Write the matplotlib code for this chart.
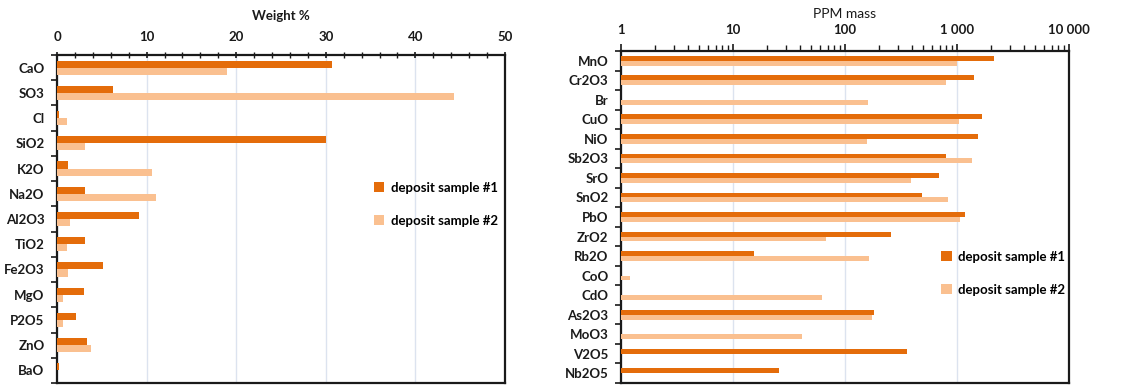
import numpy as np
import matplotlib
matplotlib.use("Agg")
import matplotlib.pyplot as plt
from matplotlib.ticker import FixedLocator, FuncFormatter, LogLocator, NullFormatter
from matplotlib.patches import Patch

plt.rcParams['font.family'] = ['Lato', 'DejaVu Sans']
plt.rcParams['font.weight'] = 'bold'

# ---- data ----
major_cats = ["CaO", "SO3", "Cl", "SiO2", "K2O", "Na2O", "Al2O3", "TiO2",
              "Fe2O3", "MgO", "P2O5", "ZnO", "BaO"]
major_s1 = [30.7, 6.3, 0.2, 30.0, 1.2, 3.1, 9.2, 3.1, 5.15, 3.05, 2.15, 3.4, 0.25]
major_s2 = [19.0, 44.3, 1.1, 3.15, 10.6, 11.0, 1.4, 1.1, 1.2, 0.67, 0.67, 3.8, 0.05]

minor_cats = ["MnO", "Cr2O3", "Br", "CuO", "NiO", "Sb2O3", "SrO", "SnO2", "PbO",
              "ZrO2", "Rb2O", "CoO", "CdO", "As2O3", "MoO3", "V2O5", "Nb2O5"]
minor_s1 = [2140, 1430, np.nan, 1660, 1540, 800, 690, 490, 1186,
            258, 15.4, np.nan, np.nan, 183, np.nan, 356, 25.8]
minor_s2 = [1000, 800, 160, 1040, 157, 1350, 390, 836, 1057,
            67, 163, 1.21, 62.5, 175, 41.4, np.nan, np.nan]

series_names = ["deposit sample #1", "deposit sample #2"]
c1 = "#E46C0A"
c2 = "#FAC090"
grid_c = "#DCE3EF"
txt_c = "#1a1a1a"

W, H = 1130, 388
fig = plt.figure(figsize=(W / 100, H / 100), dpi=100)

def frac(x0, y0, x1, y1):
    return [x0 / W, 1 - y1 / H, (x1 - x0) / W, (y1 - y0) / H]

axL = fig.add_axes(frac(57, 55, 505, 383))
axR = fig.add_axes(frac(621, 51, 1069, 383))

def style(ax, cats, s1, s2, bh):
    n = len(cats)
    y = np.arange(n)
    ax.barh(y - bh / 2, s1, height=bh, color=c1, zorder=3)
    ax.barh(y + bh / 2, s2, height=bh, color=c2, zorder=3)
    ax.set_ylim(n - 0.5, -0.5)
    ax.set_yticks(y)
    ax.set_yticklabels(cats, fontsize=9.5, fontweight='bold', color=txt_c)
    ax.yaxis.set_minor_locator(FixedLocator(np.arange(n + 1) - 0.5))
    ax.tick_params(axis='y', which='major', length=0, pad=9)
    ax.tick_params(axis='y', which='minor', length=4, width=1.2, direction='out', color=txt_c)
    ax.xaxis.tick_top()
    ax.xaxis.set_label_position('top')
    ax.tick_params(axis='x', which='major', labelsize=9.5, length=5, width=1.2,
                   direction='inout', pad=6, labelcolor=txt_c, color=txt_c)
    ax.tick_params(axis='x', which='minor', length=4, width=1.0, direction='inout', color=txt_c)
    for s in ax.spines.values():
        s.set_linewidth(1.6)
        s.set_color(txt_c)
    ax.grid(axis='x', which='major', color=grid_c, linewidth=1.0, zorder=0)
    ax.set_axisbelow(True)

style(axL, major_cats, major_s1, major_s2, 0.28)
axL.set_xlim(0, 50)
axL.set_xticks([0, 10, 20, 30, 40, 50])
axL.xaxis.set_minor_locator(FixedLocator(np.arange(0, 51, 2)))
axL.set_xlabel("Weight %", fontsize=9.5, fontweight='bold', labelpad=8, color=txt_c)
for lab in axL.get_xticklabels():
    lab.set_fontweight('bold')

style(axR, minor_cats, minor_s1, minor_s2, 0.25)
axR.set_xscale('log')
axR.set_xlim(1, 10000)
axR.xaxis.set_major_locator(FixedLocator([1, 10, 100, 1000, 10000]))
axR.xaxis.set_major_formatter(FuncFormatter(lambda v, p: f"{int(round(v)):,}".replace(",", " ")))
axR.xaxis.set_minor_locator(LogLocator(base=10, subs=np.arange(2, 10)))
axR.xaxis.set_minor_formatter(NullFormatter())
axR.tick_params(axis='x', which='both', direction='out')
axR.set_xlabel("PPM mass", fontsize=10, fontweight='normal', labelpad=4, color=txt_c)
for lab in axR.get_xticklabels():
    lab.set_fontweight('bold')

handles = [Patch(facecolor=c1, edgecolor='none'), Patch(facecolor=c2, edgecolor='none')]
axL.legend(handles, series_names, loc='upper left', bbox_to_anchor=(0.68, 0.65),
           frameon=False, handlelength=0.8, handleheight=0.8, handletextpad=0.5,
           labelspacing=1.6, prop={'size': 9.5, 'weight': 'bold'})
axR.legend(handles, series_names, loc='upper left', bbox_to_anchor=(0.688, 0.434),
           frameon=False, handlelength=0.8, handleheight=0.8, handletextpad=0.5,
           labelspacing=1.6, prop={'size': 9.5, 'weight': 'bold'})

fig.savefig("out.png", dpi=100)
